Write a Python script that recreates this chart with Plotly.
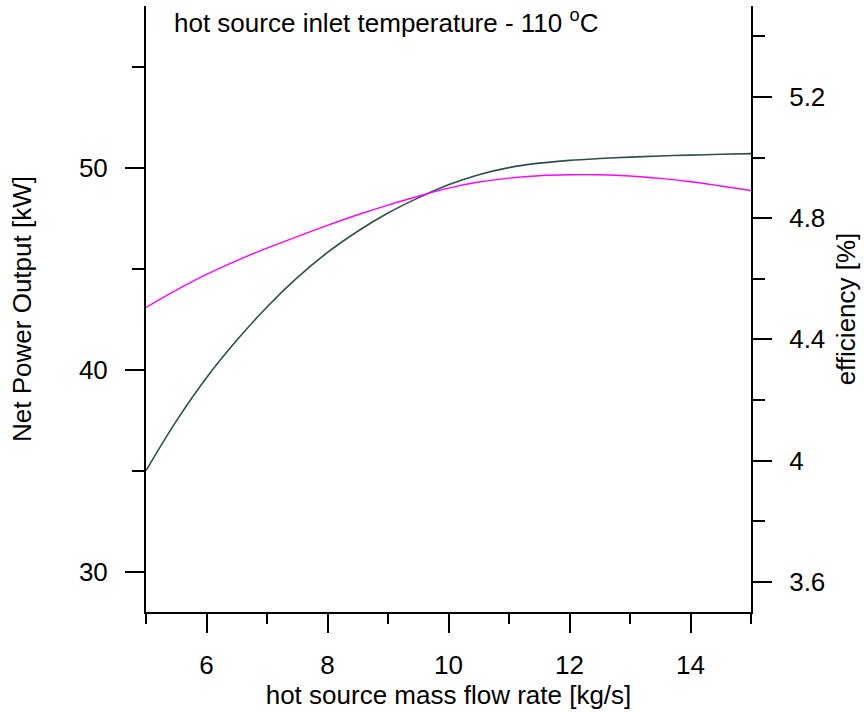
import plotly.graph_objects as go

flow_rate = [5, 5.5, 6, 6.5, 7, 7.5, 8, 8.5, 9, 9.5, 10, 10.5, 11, 11.5, 12, 12.5, 13, 13.5, 14, 14.5, 15]
net_power = [35.0, 37.45, 39.6, 41.45, 43.1, 44.55, 45.8, 46.85, 47.75, 48.5, 49.15, 49.65, 50.0,
             50.22, 50.36, 50.45, 50.52, 50.575, 50.62, 50.66, 50.69]
efficiency = [4.505, 4.562, 4.614, 4.660, 4.701, 4.739, 4.776, 4.811, 4.843, 4.872, 4.899, 4.919,
              4.932, 4.940, 4.943, 4.943, 4.939, 4.931, 4.920, 4.906, 4.891]

title_text = "hot source inlet temperature - 110 <sup>o</sup>C"
x_title = "hot source mass flow rate [kg/s]"
y_title = "Net Power Output [kW]"
y2_title = "efficiency [%]"

FONT = "Liberation Sans, Arial, sans-serif"
FS = 26

fig = go.Figure()
fig.add_trace(go.Scatter(x=flow_rate, y=net_power, mode="lines",
                         line=dict(color="#2F4F4F", width=1.6, shape="spline", smoothing=1.0),
                         yaxis="y", showlegend=False))
fig.add_trace(go.Scatter(x=flow_rate, y=efficiency, mode="lines",
                         line=dict(color="#FF00FF", width=1.4, shape="spline", smoothing=1.0),
                         yaxis="y2", showlegend=False))

axis_common = dict(showgrid=False, zeroline=False, showline=True, linecolor="black",
                   linewidth=2, ticks="outside", tickcolor="black", tickwidth=2,
                   tickfont=dict(family=FONT, size=FS, color="black"))

fig.update_layout(
    width=864, height=712,
    margin=dict(l=146, r=113, t=6, b=100),
    paper_bgcolor="white", plot_bgcolor="white",
    font=dict(family=FONT, size=FS, color="black"),
    xaxis=dict(range=[5, 15], tick0=6, dtick=2, ticklen=19, ticklabelstandoff=10,
               minor=dict(tick0=5, dtick=1, ticklen=10, tickwidth=2, tickcolor="black", ticks="outside"),
               title=dict(text=x_title, font=dict(family=FONT, size=FS), standoff=2),
               **axis_common),
    yaxis=dict(range=[28, 58], tick0=30, dtick=10, ticklen=19, ticklabelstandoff=12,
               minor=dict(tick0=30, dtick=5, ticklen=12, tickwidth=2, tickcolor="black", ticks="outside"),
               title=dict(text=y_title, font=dict(family=FONT, size=FS), standoff=40),
               **axis_common),
    yaxis2=dict(range=[3.5, 5.5], tick0=3.6, dtick=0.4, ticklen=19, overlaying="y", side="right",
                ticklabelstandoff=12,
                minor=dict(tick0=3.6, dtick=0.2, ticklen=12, tickwidth=2, tickcolor="black", ticks="outside"),
                title=dict(text=y2_title, font=dict(family=FONT, size=FS), standoff=12),
                **axis_common),
    annotations=[dict(text=title_text, x=0.043, y=0.974, xref="paper", yref="paper",
                      xanchor="left", yanchor="middle", showarrow=False,
                      font=dict(family=FONT, size=FS, color="black"))],
)

fig.write_html("out.html")
